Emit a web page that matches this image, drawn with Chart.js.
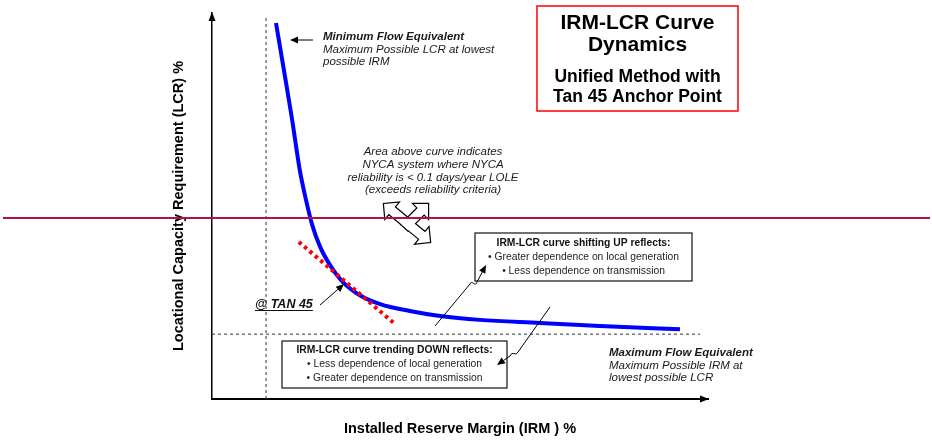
<!DOCTYPE html>
<html><head><meta charset="utf-8">
<script src="https://cdn.jsdelivr.net/npm/chart.js@4/dist/chart.umd.min.js"></script>
<style>html,body{margin:0;padding:0;background:#fff;}#wrap{width:932px;height:445px;}</style>
</head><body><div id="wrap"><canvas id="c" width="932" height="445"></canvas></div>
<script>
// ---- data (conceptual units, 0..100 on both axes) ----
const irm = [12.9, 14.5, 16.1, 17.7, 18.95, 20.2, 21.8, 23.8, 26.4, 29.8, 33.9, 39.9, 46.0, 54.0, 66.1, 78.2, 94.35];
const lcr = [97.4, 85.2, 72.8, 59.3, 51.6, 45.1, 39.4, 34.7, 30.3, 26.9, 24.6, 22.8, 21.5, 20.5, 19.7, 18.9, 18.1];
const tangentIrm = [17.5, 37.1];
const tangentLcr = [40.7, 19.2];
const minIrm = 10.9;          // lowest possible IRM (vertical dashed)
const minIrmTop = 98.7;
const minLcr = 16.8;          // lowest possible LCR (horizontal dashed)
const minLcrEnd = 98.4;
const refLineLcr = 46.9;      // red horizontal reference line
const xTitle = 'Installed Reserve Margin (IRM ) %';
const yTitle = 'Locational Capacity Requirement (LCR) %';

const FAM = '"Liberation Sans", Arial, sans-serif';

function txt(ctx, s, x, y, font, color, align) {
  ctx.font = font; ctx.fillStyle = color; ctx.textAlign = align || 'left';
  ctx.textBaseline = 'middle'; ctx.fillText(s, x, y);
}
function arrowHead(ctx, fx, fy, tx, ty, len, half) {
  const dx = tx - fx, dy = ty - fy, L = Math.hypot(dx, dy), ux = dx / L, uy = dy / L;
  const bx = tx - ux * len, by = ty - uy * len;
  ctx.beginPath(); ctx.moveTo(fx, fy); ctx.lineTo(bx, by); ctx.stroke();
  ctx.beginPath(); ctx.moveTo(tx, ty);
  ctx.lineTo(bx - uy * half, by + ux * half);
  ctx.lineTo(bx + uy * half, by - ux * half);
  ctx.closePath(); ctx.fill();
}
function piecePath(ctx, cx, cy, tx, ty, bw, hw, hl) {
  const dx = tx - cx, dy = ty - cy, L = Math.hypot(dx, dy), ux = dx / L, uy = dy / L, nx = -uy, ny = ux;
  const sx = cx - ux * bw, sy = cy - uy * bw;
  const bx = tx - ux * hl, by = ty - uy * hl;
  ctx.beginPath();
  ctx.moveTo(sx + nx * bw, sy + ny * bw);
  ctx.lineTo(bx + nx * bw, by + ny * bw);
  ctx.lineTo(bx + nx * hw, by + ny * hw);
  ctx.lineTo(tx, ty);
  ctx.lineTo(bx - nx * hw, by - ny * hw);
  ctx.lineTo(bx - nx * bw, by - ny * bw);
  ctx.lineTo(sx - nx * bw, sy - ny * bw);
  ctx.closePath();
}

const annotations = {
  id: 'annotations',
  afterDraw(chart) {
    const ctx = chart.ctx;
    const xs = chart.scales.x, ys = chart.scales.y;
    const ca = chart.chartArea;
    ctx.save();
    // axis arrowheads
    ctx.fillStyle = '#000'; ctx.strokeStyle = '#000'; ctx.lineWidth = 1.5;
    ctx.beginPath(); ctx.moveTo(ca.left, ca.top - 1); ctx.lineTo(ca.left - 3.5, ca.top + 8); ctx.lineTo(ca.left + 3.5, ca.top + 8); ctx.closePath(); ctx.fill();
    ctx.beginPath(); ctx.moveTo(ca.right + 1, ca.bottom); ctx.lineTo(ca.right - 8, ca.bottom - 3.5); ctx.lineTo(ca.right - 8, ca.bottom + 3.5); ctx.closePath(); ctx.fill();

    const ital = '#1a1a1a';
    // Minimum flow equivalent
    txt(ctx, 'Minimum Flow Equivalent', 323, 36.5, 'italic bold 11.5px ' + FAM, ital);
    txt(ctx, 'Maximum Possible LCR at lowest', 323, 49.3, 'italic 11.5px ' + FAM, ital);
    txt(ctx, 'possible IRM', 323, 62, 'italic 11.5px ' + FAM, ital);
    ctx.lineWidth = 1; ctx.fillStyle = '#000'; ctx.strokeStyle = '#000';
    arrowHead(ctx, 313, 40, 290, 40, 8, 3.5);

    // Title box
    ctx.fillStyle = '#fff'; ctx.fillRect(537, 6, 201, 105);
    ctx.strokeStyle = '#ff0000'; ctx.lineWidth = 1.5; ctx.strokeRect(537, 6, 201, 105);
    txt(ctx, 'IRM-LCR Curve', 637.5, 23.5, 'bold 21px ' + FAM, '#000', 'center');
    txt(ctx, 'Dynamics', 637.5, 45, 'bold 21px ' + FAM, '#000', 'center');
    txt(ctx, 'Unified Method with', 637.5, 77, 'bold 17.5px ' + FAM, '#000', 'center');
    txt(ctx, 'Tan 45 Anchor Point', 637.5, 97.5, 'bold 17.5px ' + FAM, '#000', 'center');

    // Area above curve text
    const ax = 433;
    txt(ctx, 'Area above curve indicates', ax, 151.7, 'italic 11.5px ' + FAM, ital, 'center');
    txt(ctx, 'NYCA system where NYCA', ax, 164.3, 'italic 11.5px ' + FAM, ital, 'center');
    txt(ctx, 'reliability is < 0.1 days/year LOLE', ax, 177.3, 'italic 11.5px ' + FAM, ital, 'center');
    txt(ctx, '(exceeds reliability criteria)', ax, 190, 'italic 11.5px ' + FAM, ital, 'center');

    // block arrow (three heads)
    const cx = 408, cy = 224;
    const tips = [[384, 204], [428, 204], [430, 242]];
    ctx.strokeStyle = '#000'; ctx.lineWidth = 2.4; ctx.lineJoin = 'miter';
    tips.forEach(t => { piecePath(ctx, cx, cy, t[0], t[1], 4.5, 10, 10); ctx.stroke(); });
    ctx.fillStyle = '#fff';
    tips.forEach(t => { piecePath(ctx, cx, cy, t[0], t[1], 4.5, 10, 10); ctx.fill(); });

    // Shifting UP box
    ctx.fillStyle = '#fff'; ctx.fillRect(475, 233, 217, 48);
    ctx.strokeStyle = '#111'; ctx.lineWidth = 1.2; ctx.strokeRect(475, 233, 217, 48);
    txt(ctx, 'IRM-LCR curve shifting UP reflects:', 583.5, 243, 'bold 10.3px ' + FAM, '#111', 'center');
    txt(ctx, '\u2022 Greater dependence on local generation', 583.5, 257, '10.3px ' + FAM, '#222', 'center');
    txt(ctx, '\u2022 Less dependence on transmission', 583.5, 271, '10.3px ' + FAM, '#222', 'center');

    // Trending DOWN box
    ctx.fillStyle = '#fff'; ctx.fillRect(282, 341, 225, 47);
    ctx.strokeStyle = '#111'; ctx.lineWidth = 1.2; ctx.strokeRect(282, 341, 225, 47);
    txt(ctx, 'IRM-LCR curve trending DOWN reflects:', 394.5, 350, 'bold 10.3px ' + FAM, '#111', 'center');
    txt(ctx, '\u2022 Less dependence of local generation', 394.5, 364, '10.3px ' + FAM, '#222', 'center');
    txt(ctx, '\u2022 Greater dependence on transmission', 394.5, 378, '10.3px ' + FAM, '#222', 'center');

    // connectors
    ctx.strokeStyle = '#000'; ctx.fillStyle = '#000'; ctx.lineWidth = 1;
    ctx.beginPath(); ctx.moveTo(435, 326); ctx.lineTo(470, 284);
    ctx.bezierCurveTo(472, 279, 475, 288, 477, 282); ctx.stroke();
    arrowHead(ctx, 477, 282, 486, 265, 8, 3.5);
    ctx.beginPath(); ctx.moveTo(550, 307); ctx.lineTo(518, 352);
    ctx.bezierCurveTo(515, 357, 513, 350, 510, 356); ctx.stroke();
    arrowHead(ctx, 510, 356, 497, 365, 8, 3.5);

    // Maximum flow equivalent
    txt(ctx, 'Maximum Flow Equivalent', 609, 353, 'italic bold 11.5px ' + FAM, ital);
    txt(ctx, 'Maximum Possible IRM at', 609, 365.5, 'italic 11.5px ' + FAM, ital);
    txt(ctx, 'lowest possible LCR', 609, 378, 'italic 11.5px ' + FAM, ital);

    // @ TAN 45
    ctx.font = 'italic bold 12.5px ' + FAM;
    txt(ctx, '@ TAN 45', 255, 304.5, 'italic bold 12.5px ' + FAM, '#111');
    const w = ctx.measureText('@ TAN 45').width;
    ctx.strokeStyle = '#111'; ctx.lineWidth = 1;
    ctx.beginPath(); ctx.moveTo(255, 310.5); ctx.lineTo(255 + w, 310.5); ctx.stroke();
    ctx.fillStyle = '#000'; ctx.strokeStyle = '#000';
    arrowHead(ctx, 320, 305, 344, 284, 8, 3.5);

    // red horizontal reference line
    const ry = ys.getPixelForValue(refLineLcr);
    ctx.strokeStyle = '#b3123d'; ctx.lineWidth = 2;
    ctx.beginPath(); ctx.moveTo(3, ry); ctx.lineTo(930, ry); ctx.stroke();
    ctx.restore();
  }
};

const curve = irm.map((x, i) => ({ x, y: lcr[i] }));
const tangent = tangentIrm.map((x, i) => ({ x, y: tangentLcr[i] }));

new Chart(document.getElementById('c'), {
  type: 'scatter',
  data: {
    datasets: [
      { label: 'IRM-LCR curve', data: curve, showLine: true, borderColor: '#0000ff', borderWidth: 4,
        pointRadius: 0, cubicInterpolationMode: 'monotone', order: 2 },
      { label: 'Tan 45', data: tangent, showLine: true, borderColor: '#ff0000', borderWidth: 4,
        borderDash: [3.5, 3.6], borderCapStyle: 'butt', pointRadius: 0, order: 1 },
      { label: 'min IRM', data: [{ x: minIrm, y: 0 }, { x: minIrm, y: minIrmTop }], showLine: true,
        borderColor: '#333', borderWidth: 1, borderDash: [3, 3], pointRadius: 0, order: 3 },
      { label: 'min LCR', data: [{ x: 0, y: minLcr }, { x: minLcrEnd, y: minLcr }], showLine: true,
        borderColor: '#333', borderWidth: 1, borderDash: [3, 3], pointRadius: 0, order: 3 }
    ]
  },
  options: {
    responsive: false, animation: false, devicePixelRatio: 1,
    layout: { padding: { left: 0, top: 13, right: 224, bottom: 0 }, autoPadding: false },
    plugins: { legend: { display: false }, tooltip: { enabled: false } },
    scales: {
      x: { type: 'linear', min: 0, max: 100,
        ticks: { display: false }, grid: { display: false, drawTicks: false },
        border: { display: true, color: '#000', width: 2 },
        title: { display: true, text: xTitle, color: '#000',
          font: { family: FAM, size: 14.5, weight: 'bold' }, padding: { top: 21.3, bottom: 7.3 } } },
      y: { type: 'linear', min: 0, max: 100,
        ticks: { display: false }, grid: { display: false, drawTicks: false },
        border: { display: true, color: '#000', width: 1.5 },
        title: { display: true, text: yTitle, color: '#000',
          font: { family: FAM, size: 14.5, weight: 'bold' }, padding: { top: 170.3, bottom: 24.3 } } }
    }
  },
  plugins: [annotations]
});
</script>
</body></html>
